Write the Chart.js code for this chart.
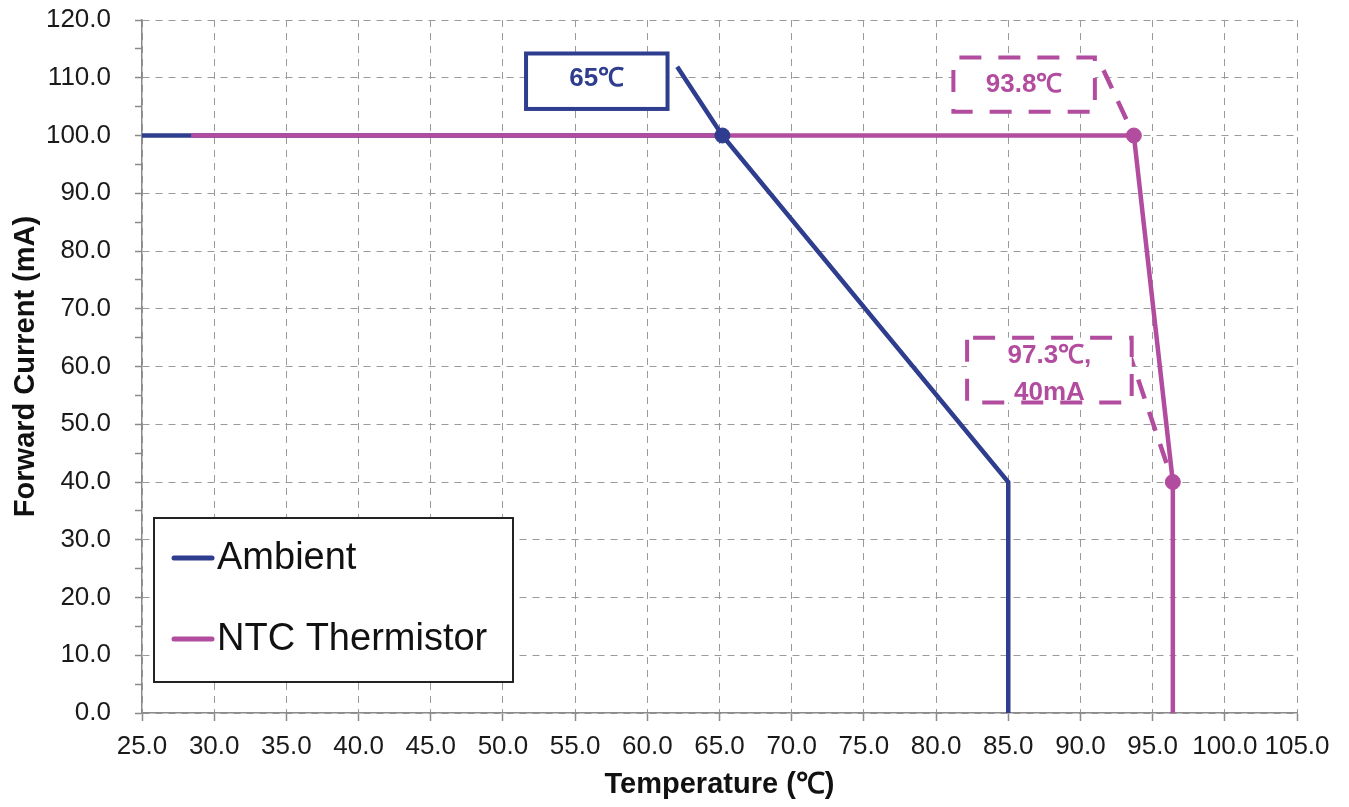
<!DOCTYPE html>
<html><head><meta charset="utf-8">
<script src="https://cdn.jsdelivr.net/npm/chart.js@4/dist/chart.umd.min.js"></script>
<style>html,body{margin:0;padding:0;background:#fff}canvas{display:block}</style>
</head><body>
<canvas id="c" width="1349" height="807"></canvas>
<script>
// ---- data ----
const seriesNames = ['Ambient', 'NTC Thermistor'];
const ambientTemp = [25, 65.2, 85, 85];
const ambientCurrent = [100, 100, 40, 0];
const ntcTemp = [28.4, 93.7, 96.4, 96.4];
const ntcCurrent = [100, 100, 40, 0];
const xTickValues = [25, 30, 35, 40, 45, 50, 55, 60, 65, 70, 75, 80, 85, 90, 95, 100, 105];
const yTickValues = [0, 10, 20, 30, 40, 50, 60, 70, 80, 90, 100, 110, 120];
const xTitle = 'Temperature (℃)';
const yTitle = 'Forward Current (mA)';
const label65 = ['65℃'];
const label938 = ['93.8℃'];
const label973 = ['97.3℃,', '40mA'];

// ---- style ----
const BLUE = '#2E3D8E';
const PINK = '#B24C9E';
const FONT = '"Liberation Sans", Arial, sans-serif';

const toPts = (xs, ys) => xs.map((x, i) => ({x, y: ys[i]}));

// annotation boxes in data coordinates
const annotations = [
  {lines: label65, color: BLUE, dashed: false, box: [51.6, 114.2, 61.4, 104.6], base: [33],
   leader: {from: [62.07, 111.9], to: () => [ambientTemp[1], ambientCurrent[1]]}},
  {lines: label938, color: PINK, dashed: true, box: [81.2, 113.5, 91.0, 104.1], base: [34],
   leader: {from: [91.6, 111.3], to: () => [ntcTemp[1], ntcCurrent[1]]}},
  {lines: label973, color: PINK, dashed: true, box: [82.15, 65.0, 93.55, 53.75], base: [25, 62],
   leader: {from: [93.25, 63.3], to: () => [ntcTemp[2], ntcCurrent[2]]}}
];

const overlay = {
  id: 'overlay',
  beforeDatasetsDraw(chart) {
    const {ctx, scales: {x, y}} = chart;
    ctx.save();
    ctx.lineWidth = 4.5;
    ctx.lineCap = 'butt';
    annotations.forEach(a => {
      const t = a.leader.to();
      ctx.strokeStyle = a.color;
      ctx.setLineDash(a.dashed ? [20, 14] : []);
      ctx.beginPath();
      ctx.moveTo(x.getPixelForValue(a.leader.from[0]), y.getPixelForValue(a.leader.from[1]));
      ctx.lineTo(x.getPixelForValue(t[0]), y.getPixelForValue(t[1]));
      ctx.stroke();
    });
    ctx.restore();
  },
  afterDatasetsDraw(chart) {
    const {ctx, scales: {x, y}, chartArea} = chart;
    ctx.save();
    annotations.forEach(a => {
      const x0 = x.getPixelForValue(a.box[0]), y0 = y.getPixelForValue(a.box[1]);
      const x1 = x.getPixelForValue(a.box[2]), y1 = y.getPixelForValue(a.box[3]);
      ctx.fillStyle = '#fff';
      ctx.fillRect(x0, y0, x1 - x0, y1 - y0);
      ctx.strokeStyle = a.color;
      ctx.lineWidth = 4;
      ctx.setLineDash(a.dashed ? [22, 17] : []);
      ctx.lineDashOffset = a.dashed ? -6 : 0;
      ctx.strokeRect(x0, y0, x1 - x0, y1 - y0);
      ctx.setLineDash([]);
      ctx.fillStyle = a.color;
      ctx.font = 'bold 26px ' + FONT;
      ctx.textAlign = 'center';
      ctx.textBaseline = 'alphabetic';
      a.lines.forEach((s, i) => ctx.fillText(s, (x0 + x1) / 2, y0 + a.base[i]));
    });
    // legend
    const lx = chartArea.left + 12, ly = 518, lw = 359, lh = 164;
    ctx.fillStyle = '#fff';
    ctx.fillRect(lx, ly, lw, lh);
    ctx.strokeStyle = '#222';
    ctx.lineWidth = 2;
    ctx.strokeRect(lx, ly, lw, lh);
    const rows = [40, 121];
    ctx.font = '38px ' + FONT;
    ctx.textAlign = 'left';
    ctx.textBaseline = 'middle';
    seriesNames.forEach((name, i) => {
      const d = chart.data.datasets.find(ds => ds.label === name);
      const cy = ly + rows[i];
      ctx.strokeStyle = d.borderColor;
      ctx.lineWidth = 5;
      ctx.lineCap = 'round';
      ctx.beginPath();
      ctx.moveTo(lx + 20, cy);
      ctx.lineTo(lx + 58, cy);
      ctx.stroke();
      ctx.fillStyle = '#111';
      ctx.fillText(d.label, lx + 63, cy + 1);
    });
    ctx.restore();
  }
};

new Chart(document.getElementById('c'), {
  type: 'scatter',
  data: {
    datasets: [
      {label: seriesNames[1], data: toPts(ntcTemp, ntcCurrent), showLine: true,
       borderColor: PINK, backgroundColor: PINK, borderWidth: 4.5,
       pointRadius: [0, 7.5, 7.5, 0], pointBorderWidth: 1, pointHoverRadius: 0, order: 1},
      {label: seriesNames[0], data: toPts(ambientTemp, ambientCurrent), showLine: true,
       borderColor: BLUE, backgroundColor: BLUE, borderWidth: 4.5,
       pointRadius: 0, order: 2},
      {label: 'marker', data: [{x: ambientTemp[1], y: ambientCurrent[1]}], showLine: false,
       borderColor: BLUE, backgroundColor: BLUE, pointRadius: 7.5, pointBorderWidth: 1, order: 0}
    ]
  },
  options: {
    responsive: false,
    animation: false,
    devicePixelRatio: 1,
    layout: {padding: {top: 20, right: 52, left: 0, bottom: 0}},
    plugins: {legend: {display: false}, tooltip: {enabled: false}},
    elements: {line: {tension: 0}},
    scales: {
      x: {
        type: 'linear', min: xTickValues[0], max: xTickValues[xTickValues.length - 1],
        afterBuildTicks: s => { s.ticks = xTickValues.map(v => ({value: v})); },
        afterFit: s => { s.height = 94; },
        ticks: {callback: v => Number(v).toFixed(1), color: '#1a1a1a', font: {family: FONT, size: 26},
                padding: 10, maxRotation: 0, autoSkip: false},
        grid: {color: '#9a9a9a', lineWidth: 1, tickLength: 8, tickColor: '#8a8a8a', tickBorderDash: [], tickWidth: 1.5},
        border: {color: '#8a8a8a', width: 1.5, dash: [7, 6]},
        title: {display: true, text: xTitle, color: '#111', font: {family: FONT, size: 29, weight: 'bold'},
                padding: {top: 0, bottom: 5}}
      },
      y: {
        type: 'linear', min: yTickValues[0], max: yTickValues[yTickValues.length - 1],
        afterBuildTicks: s => {
          const t = [];
          yTickValues.forEach((v, i) => { t.push({value: v}); if (i < yTickValues.length - 1) t.push({value: (v + yTickValues[i + 1]) / 2, minor: true}); });
          s.ticks = t;
        },
        afterFit: s => { s.width = 142; s.paddingTop = 0; s.paddingBottom = 0; },
        ticks: {callback: v => (yTickValues.includes(v) ? Number(v).toFixed(1) : ''), color: '#1a1a1a',
                font: {family: FONT, size: 26}, padding: 24, autoSkip: false},
        grid: {color: c => (c.tick && yTickValues.includes(c.tick.value) ? '#9a9a9a' : 'rgba(0,0,0,0)'),
               lineWidth: 1, tickLength: 7, tickColor: '#8a8a8a', tickBorderDash: [], tickWidth: 1.5},
        border: {color: '#8a8a8a', width: 1.5, dash: [7, 6]},
        title: {display: true, text: yTitle, color: '#111', font: {family: FONT, size: 29, weight: 'bold'},
                padding: {top: 9, bottom: 0}}
      }
    }
  },
  plugins: [overlay]
});
</script>
</body></html>
